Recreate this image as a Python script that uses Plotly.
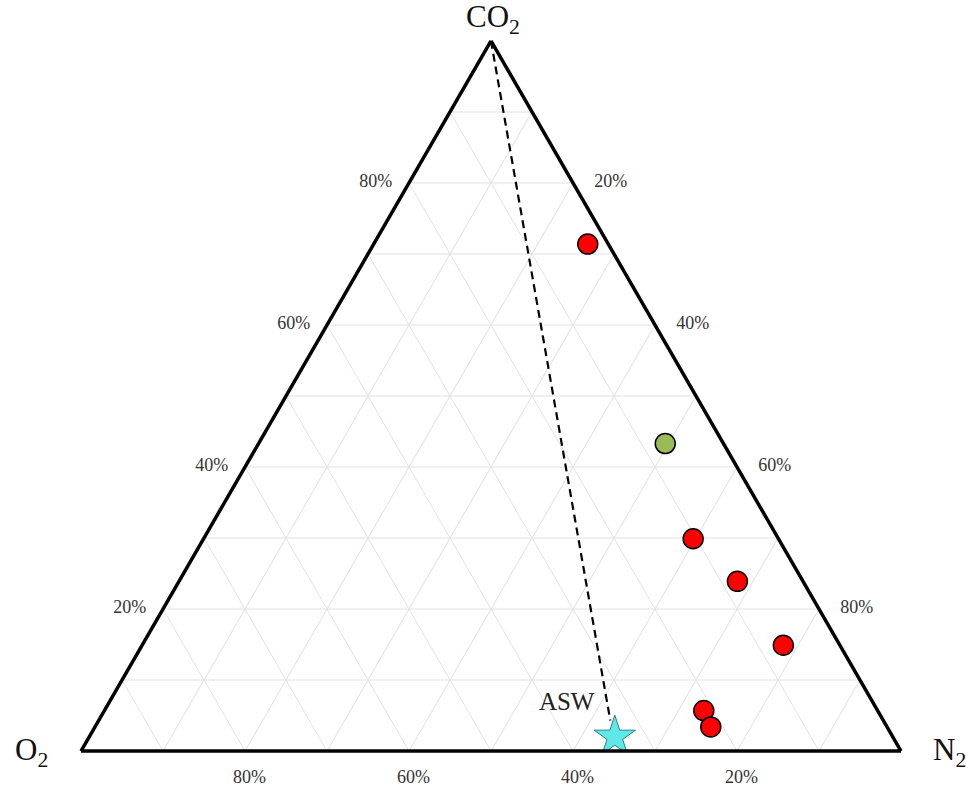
import plotly.graph_objects as go

# Ternary compositions (fractions): a = CO2, b = O2, c = N2
red_co2 = [0.714, 0.299, 0.239, 0.149, 0.057, 0.034]
red_o2 = [0.025, 0.104, 0.080, 0.069, 0.212, 0.215]
red_n2 = [0.261, 0.597, 0.681, 0.782, 0.731, 0.751]

green_co2 = [0.433]
green_o2 = [0.071]
green_n2 = [0.496]

asw_co2 = [0.020]
asw_o2 = [0.339]
asw_n2 = [0.641]

trend_co2 = [1.0, 0.043]
trend_o2 = [0.0, 0.333]
trend_n2 = [0.0, 0.624]

tick_vals = [0.1, 0.2, 0.3, 0.4, 0.5, 0.6, 0.7, 0.8, 0.9]
tick_labels = ["", "20%", "", "40%", "", "60%", "", "80%", ""]

SERIF = "Liberation Serif"
NB = "\u00a0"

fig = go.Figure()

fig.add_trace(go.Scatterternary(
    a=trend_co2, b=trend_o2, c=trend_n2, mode="lines",
    line=dict(color="black", width=2.2, dash="8px,5px"),
    hoverinfo="skip", showlegend=False))

fig.add_trace(go.Scatterternary(
    a=red_co2, b=red_o2, c=red_n2, mode="markers",
    marker=dict(size=20, color="#ff0000", line=dict(color="black", width=1.5)),
    showlegend=False))

fig.add_trace(go.Scatterternary(
    a=green_co2, b=green_o2, c=green_n2, mode="markers",
    marker=dict(size=20, color="#9bbb59", line=dict(color="black", width=1.5)),
    showlegend=False))

fig.add_trace(go.Scatterternary(
    a=asw_co2, b=asw_o2, c=asw_n2, mode="markers+text",
    text=["ASW"], textposition="top left",
    textfont=dict(family=SERIF, size=25, color="#222"),
    marker=dict(symbol="star", size=31, color="#5ee8e8", line=dict(color="#2f8080", width=1)),
    showlegend=False))

W, H = 966, 789
tri_w = 820.0
tri_h = tri_w * (3 ** 0.5) / 2
cx, cy = 491.0, 396.0
x0, x1 = cx - tri_w / 2, cx + tri_w / 2
ytop, ybot = cy - tri_h / 2, cy + tri_h / 2

def axis(texts, ticks="", ticklen=0):
    return dict(
        title=dict(text=" "),
        tickmode="array", tickvals=tick_vals, ticktext=texts,
        showline=True, linecolor="black", linewidth=3.5,
        showgrid=True, gridcolor="#e2e2e2", gridwidth=1,
        ticks=ticks, ticklen=ticklen, tickcolor="rgba(0,0,0,0)",
        tickfont=dict(family=SERIF, size=18, color="#333"),
        min=0,
    )

a_text = [t + NB * 3 if t else "" for t in tick_labels]
c_text = [NB * 4 + t if t else "" for t in tick_labels]

fig.update_layout(
    width=W, height=H, margin=dict(l=0, r=0, t=0, b=0),
    paper_bgcolor="white",
    ternary=dict(
        domain=dict(x=[x0 / W, x1 / W], y=[1 - ybot / H, 1 - ytop / H]),
        bgcolor="white", sum=1,
        aaxis=axis(a_text),
        baxis=axis(tick_labels, "outside", 9),
        caxis=axis(c_text),
    ),
    annotations=[
        dict(text="CO<sub>2</sub>", x=493 / W, y=1 - 19 / H, xref="paper", yref="paper",
             showarrow=False, xanchor="center", yanchor="middle",
             font=dict(family=SERIF, size=31, color="#111")),
        dict(text="O<sub>2</sub>", x=31 / W, y=1 - 752 / H, xref="paper", yref="paper",
             showarrow=False, xanchor="center", yanchor="middle",
             font=dict(family=SERIF, size=31, color="#111")),
        dict(text="N<sub>2</sub>", x=931 / W, y=1 - 752 / H, xref="paper", yref="paper",
             showarrow=False, xanchor="left", yanchor="middle",
             font=dict(family=SERIF, size=31, color="#111")),
    ],
)

fig.write_html("out.html")
